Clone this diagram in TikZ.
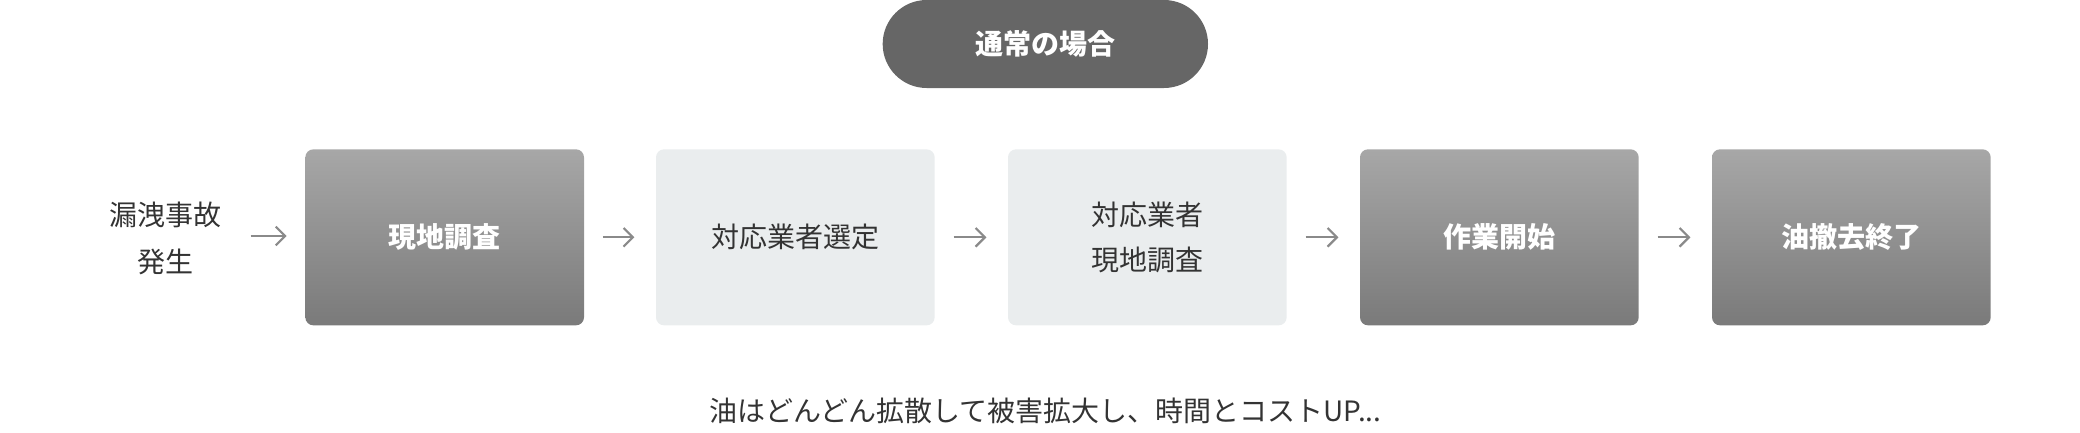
\documentclass[tikz,border=0pt]{standalone}
\usepackage{fontspec}
\setmainfont{Noto Sans CJK JP}
\newfontfamily\jpb[FakeBold=0]{Noto Sans CJK JP Bold}
\definecolor{pillc}{HTML}{666666}
\definecolor{gtop}{HTML}{A7A7A7}
\definecolor{gbot}{HTML}{7A7A7A}
\definecolor{lbox}{HTML}{EAEDEE}
\definecolor{txt}{HTML}{333333}
\definecolor{arr}{HTML}{8A8A8A}
\begin{document}
\begin{tikzpicture}[x=1pt,y=-1pt,
  darkbox/.style={minimum width=209pt,minimum height=132pt,rounded corners=6pt,
    top color=gtop,bottom color=gbot,middle color=gtop,shading angle=0,
    text=white,font=\fontsize{21}{28}\selectfont\bfseries,align=center,inner sep=0},
  lightbox/.style={minimum width=209pt,minimum height=132pt,rounded corners=6pt,
    fill=lbox,text=txt,font=\fontsize{21}{34}\selectfont,align=center,inner sep=0},
  flowarrow/.style={draw=arr,line width=1.6pt,-{Straight Barb[length=7pt,width=14pt]},shorten >=4pt,shorten <=4pt}]
\usetikzlibrary{arrows.meta}
\useasboundingbox (0,0) rectangle (1560,324);
\node[fill=pillc,rounded corners=33pt,minimum width=244pt,minimum height=66pt,text=white,font=\fontsize{21}{28}\selectfont\bfseries] (pill) at (784,33) {通常の場合};
\node[text=txt,font=\fontsize{21}{35}\selectfont,align=center] (start) at (124,179) {漏洩事故\\発生};
\node[darkbox,top color=gtop,bottom color=gbot] (b1) at (333.5,178) {現地調査};
\node[lightbox] (b2) at (596.5,178) {対応業者選定};
\node[lightbox] (b3) at (860.5,178) {対応業者\\現地調査};
\node[darkbox,top color=gtop,bottom color=gbot] (b4) at (1124.5,178) {作業開始};
\node[darkbox,top color=gtop,bottom color=gbot] (b5) at (1388.5,178) {油撤去終了};
\coordinate (a0s) at (184,177); \coordinate (a0e) at (219,177);
\draw[flowarrow] (a0s) -- (a0e);
\draw[flowarrow,shorten <=14pt,shorten >=16pt] (b1.east) -- (b2.west);
\draw[flowarrow,shorten <=14pt,shorten >=16pt] (b2.east) -- (b3.west);
\draw[flowarrow,shorten <=14pt,shorten >=16pt] (b3.east) -- (b4.west);
\draw[flowarrow,shorten <=14pt,shorten >=16pt] (b4.east) -- (b5.west);
\node[text=txt,font=\fontsize{21}{28}\selectfont] (note) at (784,308) {油はどんどん拡散して被害拡大し、時間とコストUP...};
\end{tikzpicture}
\end{document}
